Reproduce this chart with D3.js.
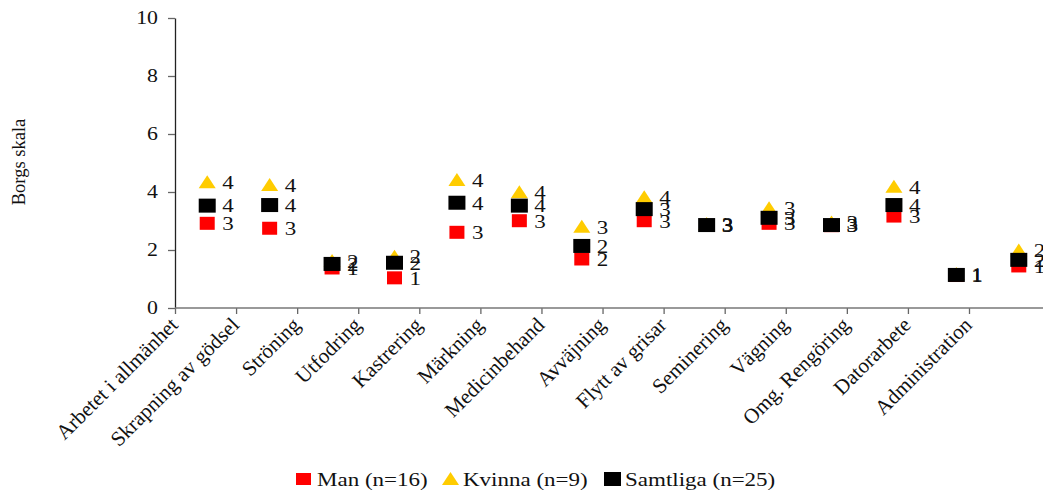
<!DOCTYPE html>
<html>
<head>
<meta charset="utf-8">
<script src="https://cdn.jsdelivr.net/npm/d3@7"></script>
<style>
  html, body { margin: 0; padding: 0; background: #fff; }
  svg { display: block; font-family: "Liberation Serif", "Times New Roman", serif; }
</style>
</head>
<body>
<svg id="chart" width="1043" height="490"></svg>
<script>
// Arbetsmoment och upplevd ansträngning (Borgs skala)
const categories = [
  "Arbetet i allmänhet", "Skrapning av gödsel", "Ströning", "Utfodring",
  "Kastrering", "Märkning", "Medicinbehand", "Avväjning", "Flytt av grisar",
  "Seminering", "Vägning", "Omg. Rengöring", "Datorarbete", "Administration"
];
const manValues      = [2.92, 2.75, 1.38, 1.04, 2.61, 3.01, 1.69, 3.01, 2.85, 2.92, 2.84, 3.17, 1.12, 1.45];
const kvinnaValues   = [4.34, 4.24, 1.62, 1.77, 4.41, 3.99, 2.80, 3.82, 2.90, 3.44, 2.95, 4.18, 1.17, 1.98];
const samtligaValues = [3.53, 3.55, 1.52, 1.56, 3.63, 3.53, 2.14, 3.41, 2.86, 3.11, 2.86, 3.55, 1.14, 1.66];
const seriesNames = ["Man (n=16)", "Kvinna (n=9)", "Samtliga (n=25)"];
const yTicks = [0, 2, 4, 6, 8, 10];

const svg = d3.select("#chart");
const stretch = 1.18;            // wide text rendering
const fmt = d3.format(".0f");

const y = d3.scaleLinear().domain([0, 10]).range([308, 18]);
// category labels sit on tick marks
const xTick = d3.scalePoint().domain(categories).range([175, 969]);
// markers sit in the centre of each category slot
const xBand = d3.scaleBand().domain(categories).range([176, 1050]);
const cx = c => xBand(c) + xBand.bandwidth() / 2;

// Y axis
const yAxis = d3.axisLeft(y).tickValues(yTicks).tickSize(7).tickSizeOuter(0).tickFormat("");
const gy = svg.append("g").attr("transform", "translate(175,0)").call(yAxis);
gy.select(".domain").attr("stroke", "#222").attr("stroke-width", 1.3);
gy.selectAll(".tick line").attr("stroke", "#666").attr("stroke-width", 1.3);
svg.append("g").selectAll("text").data(yTicks).join("text")
  .attr("transform", d => `translate(158,${y(d)}) scale(${stretch},1)`)
  .attr("text-anchor", "end").attr("dy", "0.35em")
  .attr("font-size", 18.5).attr("fill", "#111")
  .text(d => d);

// X axis
const xAxis = d3.axisBottom(xTick).tickSize(6).tickSizeOuter(0).tickFormat("");
const gx = svg.append("g").attr("transform", "translate(0,308)").call(xAxis);
gx.select(".domain").remove();
gx.selectAll(".tick line").attr("stroke", "#666").attr("stroke-width", 1.3);
gx.append("line").attr("x1", xBand.range()[0] - 1).attr("x2", xBand.range()[1])
  .attr("stroke", "#777").attr("stroke-width", 1.5);

svg.append("g").selectAll("text").data(categories).join("text")
  .attr("transform", d => `translate(${xTick(d) - 1},321) rotate(-45)`)
  .attr("text-anchor", "end").attr("dy", "0.35em")
  .attr("font-size", 21).attr("fill", "#111")
  .text(d => d);

// Y axis title
svg.append("text")
  .attr("transform", "translate(25,162) rotate(-90)")
  .attr("text-anchor", "middle")
  .attr("font-size", 18.5).attr("fill", "#111")
  .text("Borgs skala");

// Marker shapes
const tri = "M0,-7 L8.5,6 L-8.5,6 Z";
function drawSquares(values, color, w, h) {
  svg.append("g").selectAll("rect").data(categories).join("rect")
    .attr("x", (c) => cx(c) - w / 2)
    .attr("y", (c, i) => y(values[i]) - h / 2)
    .attr("width", w).attr("height", h)
    .attr("fill", color);
}
function drawTriangles(values, color) {
  svg.append("g").selectAll("path").data(categories).join("path")
    .attr("transform", (c, i) => `translate(${cx(c)},${y(values[i])})`)
    .attr("d", tri).attr("fill", color);
}
function drawLabels(values) {
  svg.append("g").selectAll("text").data(categories).join("text")
    .attr("transform", (c, i) => `translate(${cx(c) + 15},${y(values[i])}) scale(${stretch},1)`)
    .attr("dy", "0.35em").attr("font-size", 19.5).attr("fill", "#111")
    .text((c, i) => fmt(values[i]));
}

drawSquares(manValues, "#ff0000", 15, 13);
drawTriangles(kvinnaValues, "#ffcc00");
drawSquares(samtligaValues, "#000000", 17, 14);
drawLabels(manValues);
drawLabels(kvinnaValues);
drawLabels(samtligaValues);

// Legend
const legend = svg.append("g");
legend.append("rect").attr("x", 296).attr("y", 473).attr("width", 15).attr("height", 12).attr("fill", "#ff0000");
legend.append("path").attr("transform", "translate(450.5,479)").attr("d", tri).attr("fill", "#ffcc00");
legend.append("rect").attr("x", 604).attr("y", 472).attr("width", 17).attr("height", 14).attr("fill", "#000");
const legendText = [[317, seriesNames[0]], [463, seriesNames[1]], [625, seriesNames[2]]];
legend.selectAll("text").data(legendText).join("text")
  .attr("transform", d => `translate(${d[0]},486) scale(${stretch},1)`)
  .attr("font-size", 19.5).attr("fill", "#111")
  .text(d => d[1]);
</script>
</body>
</html>
